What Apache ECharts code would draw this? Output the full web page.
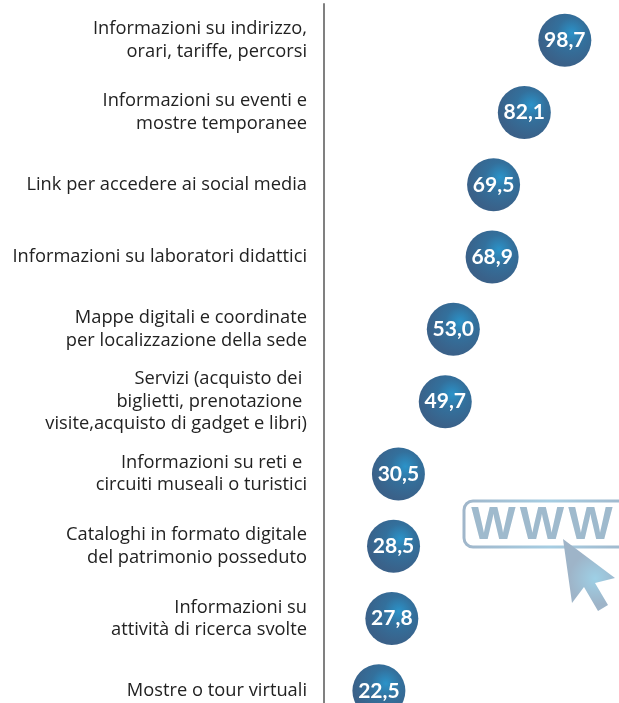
<!DOCTYPE html>
<html>
<head>
<meta charset="utf-8">
<style>html,body{margin:0;padding:0;background:#fff}#c{width:619px;height:703px}</style>
<script src="https://cdn.jsdelivr.net/npm/echarts@6/dist/echarts.min.js"></script>
</head>
<body>
<div id="c"></div>
<script>
const categories = [
  "Informazioni su indirizzo,\norari, tariffe, percorsi",
  "Informazioni su eventi e\nmostre temporanee",
  "Link per accedere ai social media",
  "Informazioni su laboratori didattici",
  "Mappe digitali e coordinate\nper localizzazione della sede",
  "Servizi (acquisto dei \nbiglietti, prenotazione \nvisite,acquisto di gadget e libri)",
  "Informazioni su reti e \ncircuiti museali o turistici",
  "Cataloghi in formato digitale\ndel patrimonio posseduto",
  "Informazioni su\nattività di ricerca svolte",
  "Mostre o tour virtuali"
];
const values = [98.7, 82.1, 69.5, 68.9, 53.0, 49.7, 30.5, 28.5, 27.8, 22.5];
const iconLetters = ["W", "W", "W"];

const chart = echarts.init(document.getElementById('c'), null, {renderer: 'canvas'});
const bubble = new echarts.graphic.RadialGradient(0.63, 0.36, 0.62, [
  {offset: 0, color: '#2b93c9'},
  {offset: 0.45, color: '#33709c'},
  {offset: 1, color: '#3a6189'}
]);
const iconFill = (x, y, r) => new echarts.graphic.RadialGradient(x, y, r, [
  {offset: 0, color: '#9ed0e6'},
  {offset: 1, color: '#9eb4c8'}
]);
chart.setOption({
  animation: false,
  grid: {left: 324, right: 51, top: 4, height: 723, containLabel: false, outerBoundsMode: 'none'},
  xAxis: {type: 'value', min: 0, max: 100, show: false},
  yAxis: {
    type: 'category', data: categories, inverse: true,
    axisLine: {show: true, lineStyle: {color: '#808080', width: 2}},
    axisTick: {show: false},
    axisLabel: {
      margin: 17, interval: 0, align: 'right',
      fontFamily: 'Open Sans', fontSize: 18.3, lineHeight: 22.5, color: '#222222'
    }
  },
  series: [{
    type: 'scatter',
    data: values.map((v, i) => [v, i]),
    symbol: 'circle', symbolSize: 53, clip: false,
    itemStyle: {color: bubble, opacity: 1},
    label: {
      show: true, position: 'inside',
      formatter: p => p.value[0].toFixed(1).replace('.', ','),
      fontFamily: 'Lato', fontWeight: 'bold', fontSize: 21, color: '#fff'
    }
  }],
  graphic: [
    {type: 'rect', silent: true, shape: {x: 464, y: 501, width: 170, height: 46, r: 9},
     style: {
       fill: 'none', lineWidth: 3,
       stroke: new echarts.graphic.LinearGradient(0, 0, 1, 0, [
         {offset: 0, color: '#a0b6ca'}, {offset: 0.5, color: '#a6cde2'}, {offset: 1, color: '#a0b6ca'}
       ])
     }},
    ...iconLetters.map((ch, i) => ({
      type: 'text', silent: true, x: 493.5 + 48.5 * i, y: 526,
      style: {text: ch, fontFamily: 'Liberation Sans', fontWeight: 'bold', fontSize: 47,
        align: 'center', verticalAlign: 'middle', fill: '#9fbacd'}
    })),
    {type: 'polygon', silent: true,
     shape: {points: [[563,539],[615,578],[595,583],[608,605],[598,611],[584,587],[572,603]]},
     style: {fill: iconFill(0.62, 0.55, 0.5)}}
  ]
});
</script>
</body>
</html>
